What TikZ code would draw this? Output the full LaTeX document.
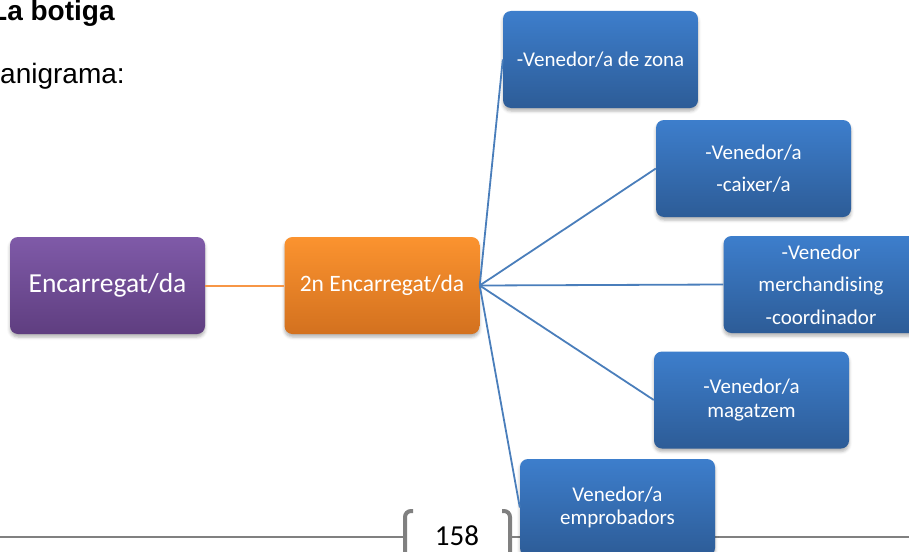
\documentclass[tikz,border=0pt]{standalone}
\usepackage{fontspec}
\setmainfont{Liberation Sans}
\newfontfamily\carlito{Carlito}
\usetikzlibrary{shadows.blur}
\definecolor{bluetop}{HTML}{3D7ECC}
\definecolor{bluebot}{HTML}{2D5C97}
\definecolor{bluelink}{HTML}{4A7EBB}
\definecolor{purtop}{HTML}{7F5AA8}
\definecolor{purbot}{HTML}{5F3E80}
\definecolor{ortop}{HTML}{FB932F}
\definecolor{orbot}{HTML}{D3711F}
\definecolor{orlink}{HTML}{F79646}
\definecolor{footgray}{HTML}{808080}
\tikzset{
  box/.style={rounded corners=8pt, minimum width=195pt, minimum height=97pt,
    inner sep=0pt, align=center, text=white,
    blur shadow={shadow xshift=0pt, shadow yshift=-3pt, shadow blur radius=3pt, shadow opacity=30}},
  bluebox/.style={box, top color=bluetop, bottom color=bluebot,
    font=\carlito\fontsize{21}{23.5}\selectfont},
  wideblue/.style={box, top color=bluetop, bottom color=bluebot,
    font=\carlito\fontsize{21}{32.5}\selectfont},
  purbox/.style={box, top color=purtop, bottom color=purbot,
    font=\carlito\fontsize{27.5}{30}\selectfont},
  orbox/.style={box, top color=ortop, bottom color=orbot,
    font=\carlito\fontsize{23.5}{26}\selectfont},
  bluelinkstyle/.style={draw=bluelink, line width=1.8pt},
  orlinkstyle/.style={draw=orlink, line width=2pt},
  footline/.style={draw=footgray, line width=2.4pt},
  bracket/.style={draw=footgray, line width=4pt, rounded corners=6pt},
}
\begin{document}
\begin{tikzpicture}[x=1pt,y=-1pt]
\useasboundingbox (0,0) rectangle (909,551);
\begin{scope}
\clip (0,0) rectangle (909,551);
% header texts
\node[anchor=base west, inner sep=0pt, font=\bfseries\fontsize{28}{32}\selectfont] (title) at (-10,21) {La botiga};
\node[anchor=base west, inner sep=0pt, font=\fontsize{28}{32}\selectfont] (org) at (0,83) {anigrama:};
% footer
\draw[footline] (0,537) -- (405,537);
\draw[footline] (510,537) -- (909,537);
\draw[bracket] (413,511) -- (405,511) -- (405,560);
\draw[bracket] (502,511) -- (510,511) -- (510,560);
\node[font=\carlito\fontsize{29}{32}\selectfont, inner sep=0pt] (page) at (457,535.5) {158};
% nodes
\node[purbox] (boss) at (107.5,285.5) {Encarregat/da};
\node[orbox] (sub) at (382,285.5) {2n Encarregat/da};
\node[bluebox] (zona) at (600.5,59.5) {-Venedor/a de zona};
\node[wideblue] (caixer) at (753.5,168.5) {-Venedor/a\\-caixer/a};
\node[wideblue] (merch) at (821,284.5) {-Venedor\\merchandising\\-coordinador};
\node[bluebox] (magat) at (751.5,400) {-Venedor/a\\magatzem};
\node[bluebox] (empro) at (617.5,507.5) {Venedor/a\\emprobadors};
% connectors
\draw[orlinkstyle] (boss.east) -- (sub.west);
\foreach \t in {zona,caixer,merch,magat,empro}
  \draw[bluelinkstyle] (sub.east) -- (\t.west);
\end{scope}
\end{tikzpicture}
\end{document}
